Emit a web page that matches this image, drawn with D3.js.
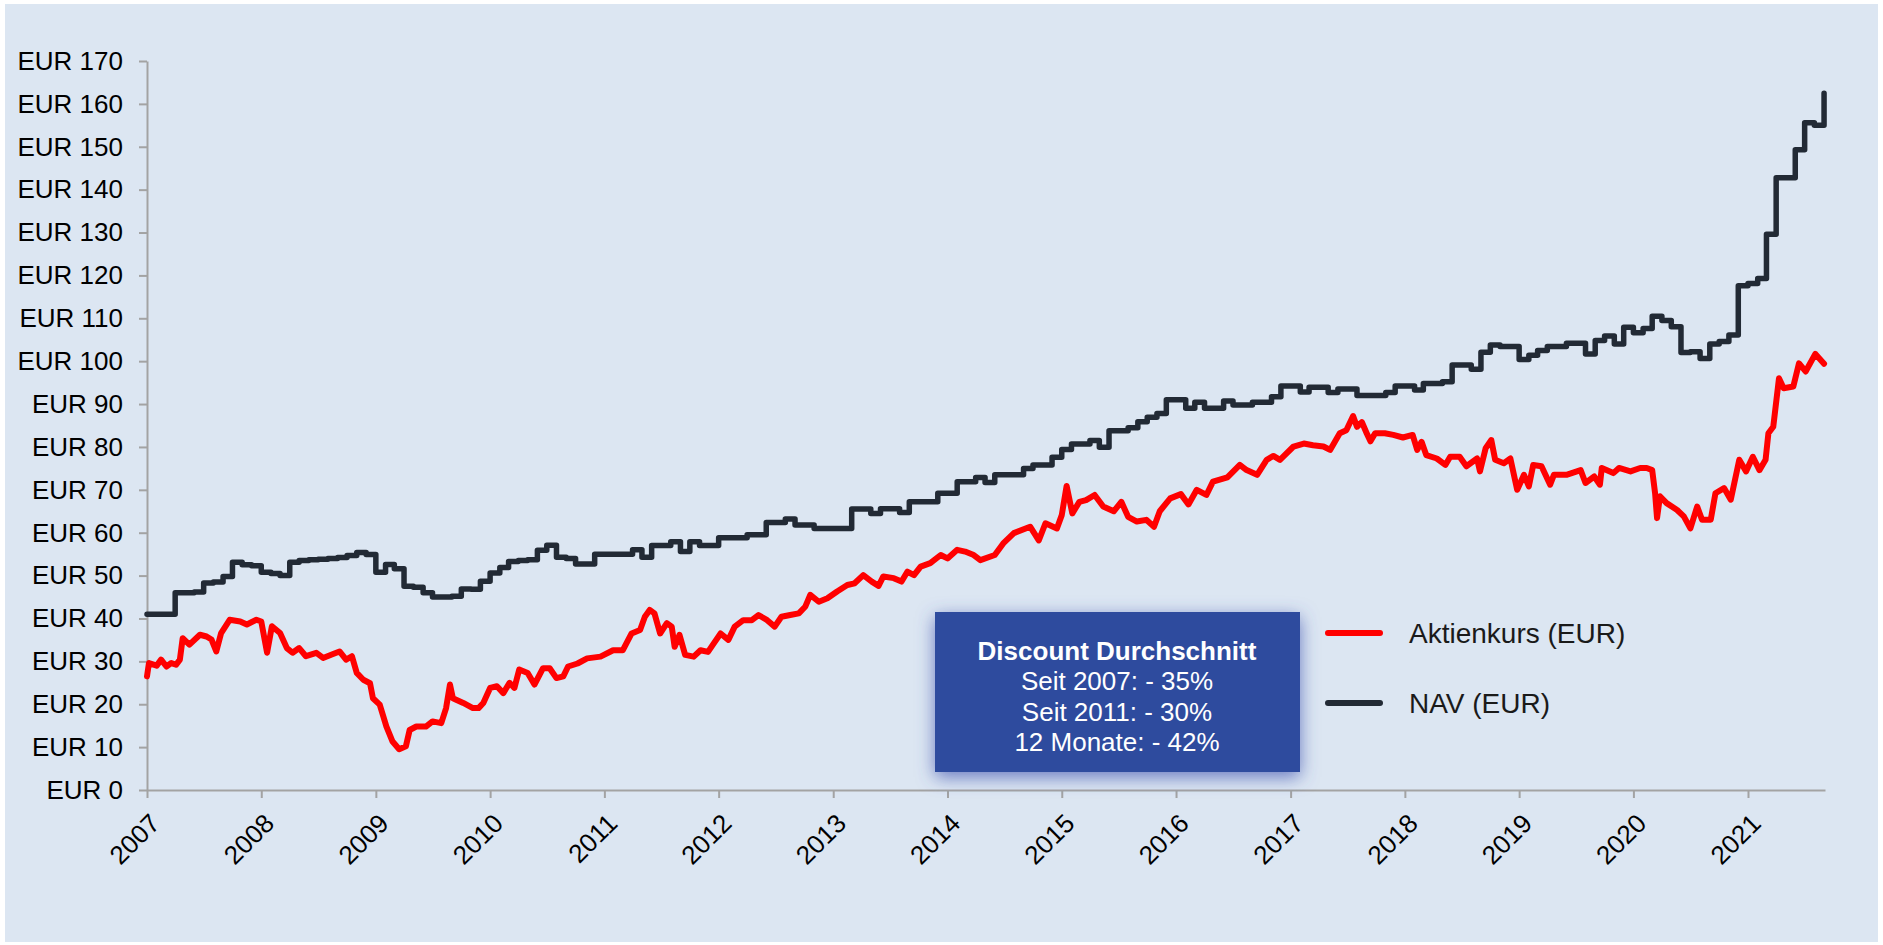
<!DOCTYPE html>
<html>
<head>
<meta charset="utf-8">
<script src="https://cdn.jsdelivr.net/npm/d3@7"></script>
<style>
  body { margin: 0; background: #ffffff; }
  svg { display: block; font-family: "Liberation Sans", Arial, sans-serif; }
</style>
</head>
<body>
<script>
//Data - NAV is published monthly (Jan 2007 = month 0), shown as steps
const navValues = [
  41, 41, 41, 46, 46, 46.2, 48.3, 48.5, 49.8, 53.1, 52.5, 52.3,            // 2007
  50.8, 50.5, 50.0, 53.1, 53.5, 53.7, 53.8, 54.0, 54.2, 54.7, 55.4, 54.9,  // 2008
  50.8, 52.6, 51.6, 47.5, 47.3, 46.0, 45.0, 45.0, 45.2, 46.9, 46.8, 48.7,  // 2009
  50.6, 51.9, 53.3, 53.5, 53.7, 55.9, 57.1, 54.3, 54.0, 52.7, 52.7, 55.0,  // 2010
  55.0, 55.0, 55.0, 56.0, 54.3, 57.0, 57.0, 57.9, 55.6, 57.9, 57.0, 57.0,  // 2011
  58.8, 58.8, 58.8, 59.5, 59.5, 62.4, 62.4, 63.2, 61.8, 61.8, 61.0, 61.0,  // 2012
  61.0, 61.0, 65.5, 65.5, 64.5, 65.6, 65.6, 64.7, 67.2, 67.2, 67.2, 69.2,  // 2013
  69.2, 71.9, 71.9, 72.9, 71.7, 73.5, 73.5, 73.5, 75.0, 75.8, 75.8, 77.6,  // 2014
  79.4, 80.7, 80.7, 81.5, 79.9, 83.8, 83.8, 84.5, 85.9, 86.9, 87.8, 91.0,  // 2015
  91.0, 89.0, 90.4, 89.0, 89.0, 90.7, 89.8, 89.8, 90.4, 90.4, 91.7, 94.2,  // 2016
  94.2, 92.8, 93.9, 93.9, 92.7, 93.5, 93.5, 92.0, 92.0, 92.0, 92.7, 94.2,  // 2017
  94.2, 93.3, 94.8, 94.8, 95.2, 99.1, 99.1, 98.1, 102.1, 103.8, 103.4, 103.4, // 2018
  100.4, 101.4, 102.5, 103.4, 103.4, 104.2, 104.2, 101.7, 104.8, 105.9, 104.0, 107.9, // 2019
  106.6, 107.6, 110.5, 109.5, 108.0, 102.0, 102.2, 100.6, 104.0, 104.6, 106.1, 117.6, // 2020
  118.1, 119.3, 129.6, 142.8, 142.8, 149.3, 155.6, 155.0, 162.5             // 2021
];

//Share price: month offset since Jan 2007 and price in EUR
const priceMonths = [
  0, 0.2, 1.0, 1.5, 2.1, 2.6, 3.1, 3.5, 3.8, 4.5, 5.6, 6.3, 6.8, 7.3, 7.8, 8.7, 9.8, 10.5, 11.5,
  12.0, 12.6, 13.1, 14.0, 14.7, 15.3, 16.0, 16.7, 17.8, 18.5, 19.4, 20.2, 20.9, 21.5, 22.0, 22.7, 23.4, 23.7,
  24.4, 25.1, 25.8, 26.5, 27.2, 27.6, 28.3, 29.3, 30.0, 30.9, 31.4, 31.8, 32.1, 33.2, 34.2, 34.8, 35.3,
  36.0, 36.7, 37.4, 38.1, 38.6, 39.1, 40.0, 40.7, 41.6, 42.3, 43.0, 43.7, 44.2, 45.2, 46.2, 47.6,
  48.9, 50.0, 50.9, 51.8, 52.3, 52.8, 53.3, 53.9, 54.6, 55.1, 55.4, 55.9, 56.5, 57.4, 58.1, 58.9, 59.5,
  60.2, 61.0, 61.7, 62.6, 63.5, 64.2, 65.1, 65.9, 66.6, 67.5, 68.4, 69.1, 69.6, 70.5, 71.4,
  72.4, 73.5, 74.3, 75.2, 76.1, 76.8, 77.3, 78.4, 79.2, 79.8, 80.5, 81.2, 82.2, 83.3,
  84.0, 85.0, 85.9, 86.8, 87.5, 89.0, 89.9, 91.0, 92.7, 93.6, 94.3, 95.5,
  96.0, 96.5, 97.1, 97.9, 98.6, 99.5, 100.4, 101.5, 102.3, 103.0, 103.9, 104.9, 105.7, 106.3, 107.4,
  108.5, 109.3, 110.2, 111.2, 111.9, 113.4, 114.7, 115.4, 116.5, 117.5, 118.2, 118.9,
  120.3, 121.4, 122.4, 123.5, 124.2, 125.2, 125.9, 126.6, 127.0, 127.5, 128.0, 128.4, 128.9, 129.9, 130.8, 131.8,
  132.8, 133.3, 133.8, 134.3, 135.4, 136.3, 136.8, 137.8, 138.5, 139.6, 139.9, 140.5, 141.1, 141.5, 142.4, 143.1, 143.8,
  144.5, 145.0, 145.5, 146.4, 147.3, 147.7, 149.0, 150.5, 151.0, 151.9, 152.5, 152.7, 153.9, 154.5, 155.7,
  156.7, 157.4, 158.0, 158.3, 158.5, 158.8, 159.5, 160.6, 161.3, 162.0, 162.7, 163.2, 164.1, 164.6, 165.5, 166.2, 167.1, 167.8,
  168.5, 169.2, 169.9, 170.2, 170.7, 171.3, 171.8, 172.8, 173.4, 174.1, 175.1, 176.0
];
const priceValues = [
  26.5, 29.6, 29.0, 30.4, 28.8, 29.6, 29.2, 30.4, 35.4, 33.9, 36.2, 35.8, 35.1, 32.3, 36.6, 39.7, 39.3, 38.6, 39.7,
  39.3, 32.0, 38.2, 36.6, 33.1, 32.0, 33.1, 31.2, 32.0, 30.8, 31.6, 32.3, 30.4, 31.2, 27.3, 25.7, 24.9, 21.4,
  19.9, 14.8, 11.3, 9.5, 10.2, 14.0, 14.8, 14.8, 16.0, 15.6, 19.1, 24.6, 21.4, 20.3, 19.1, 19.1, 20.3,
  23.8, 24.2, 22.6, 25.0, 23.8, 28.1, 27.3, 24.6, 28.4, 28.4, 26.1, 26.5, 28.8, 29.5, 30.7, 31.1,
  32.6, 32.6, 36.5, 37.3, 40.4, 42.0, 41.2, 36.5, 38.9, 38.1, 33.4, 36.2, 31.5, 31.1, 32.6, 32.2, 34.2,
  36.5, 35.0, 38.1, 39.6, 39.6, 40.8, 39.6, 38.1, 40.4, 40.8, 41.2, 42.8, 45.5, 43.9, 44.7,
  46.3, 47.8, 48.2, 50.1, 48.6, 47.6, 49.8, 49.4, 48.6, 50.9, 50.1, 52.1, 52.9, 54.8,
  54.0, 56.0, 55.6, 54.8, 53.6, 54.8, 57.5, 59.9, 61.4, 58.2, 62.2, 61.0,
  64.1, 70.9, 64.5, 67.2, 67.6, 68.8, 66.1, 65.0, 67.2, 63.7, 62.6, 63.0, 61.4, 65.0, 68.0,
  69.0, 66.6, 70.0, 68.8, 71.9, 72.9, 75.8, 74.6, 73.5, 77.0, 77.9, 77.0,
  80.1, 80.8, 80.4, 80.1, 79.3, 83.2, 83.9, 87.2, 84.7, 85.8, 83.2, 81.3, 83.2, 83.2, 82.8, 82.2,
  82.8, 79.3, 81.2, 78.1, 77.3, 75.8, 77.7, 77.7, 75.5, 77.3, 74.3, 79.7, 81.6, 77.0, 76.2, 77.3, 70.0,
  73.5, 70.8, 75.8, 75.5, 71.2, 73.5, 73.5, 74.6, 71.6, 73.1, 71.2, 75.1, 73.9, 75.1, 74.3,
  75.1, 75.1, 74.6, 69.2, 63.4, 68.5, 66.9, 65.3, 63.8, 61.0, 66.1, 63.0, 63.0, 69.2, 70.4, 67.7, 77.0, 74.3,
  77.7, 74.6, 77.0, 83.2, 84.7, 96.0, 93.7, 94.1, 99.5, 97.6, 101.7, 99.4
];

const yTicks = d3.range(0, 171, 10);
const seriesNames = ["Aktienkurs (EUR)", "NAV (EUR)"];
const seriesColors = ["#ff0000", "#222a35"];
const infoTitle = "Discount Durchschnitt";
const infoLines = ["Seit 2007: - 35%", "Seit 2011: - 30%", "12 Monate: - 42%"];

//Sizes
const width = 1883;
const height = 945;
const margin = {top: 61, right: 58, bottom: 155, left: 147};

//month offset -> date
function monthToDate(m) {
  const k = Math.floor(m);
  const a = new Date(2007, k, 1);
  const b = new Date(2007, k + 1, 1);
  return new Date(+a + (m - k) * (b - a));
}

const navData = navValues.map((v, i) => ({date: monthToDate(i), value: v}));
const priceData = priceMonths.map((m, i) => ({date: monthToDate(m), value: priceValues[i]}));

//Scales
const xScale = d3.scaleTime()
  .domain([new Date(2007, 0, 1), new Date(2021, 8, 4)])
  .range([margin.left, width - margin.right]);

const yScale = d3.scaleLinear()
  .domain([0, 170])
  .range([height - margin.bottom, margin.top]);

const svg = d3.select("body").append("svg")
  .attr("width", width)
  .attr("height", height);

//drop shadow for the info box
const defs = svg.append("defs");
const glow = defs.append("filter").attr("id", "glow")
  .attr("x", "-20%").attr("y", "-30%").attr("width", "140%").attr("height", "160%");
glow.append("feDropShadow")
  .attr("dx", 0).attr("dy", 5)
  .attr("stdDeviation", 9)
  .attr("flood-color", "#3f55b0")
  .attr("flood-opacity", 0.75);

//Background
svg.append("rect")
  .attr("x", 5).attr("y", 4)
  .attr("width", 1873).attr("height", 938)
  .attr("fill", "#dce6f2");

//Axes
const leftAxis = d3.axisLeft(yScale)
  .tickValues(yTicks)
  .tickFormat(d => "EUR " + d)
  .tickSize(8)
  .tickSizeOuter(0)
  .tickPadding(16);

const bottomAxis = d3.axisBottom(xScale)
  .ticks(d3.timeYear.every(1))
  .tickFormat(d3.timeFormat("%Y"))
  .tickSize(8)
  .tickSizeOuter(0);

const gy = svg.append("g")
  .attr("transform", "translate(" + margin.left + ",0)")
  .call(leftAxis);

const gx = svg.append("g")
  .attr("transform", "translate(0," + (height - margin.bottom) + ")")
  .call(bottomAxis);

[gx, gy].forEach(g => {
  g.select(".domain").attr("stroke", "#a3a3a3").attr("stroke-width", 2);
  g.selectAll(".tick line").attr("stroke", "#a3a3a3").attr("stroke-width", 2);
  g.selectAll("text").attr("fill", "#000").attr("font-size", 26)
    .attr("font-family", "'Liberation Sans', Arial, sans-serif");
});

gx.selectAll(".tick text")
  .attr("x", 0).attr("y", 0).attr("dy", null)
  .attr("text-anchor", "end")
  .attr("transform", "translate(14,35) rotate(-45)");

//Lines
const navLine = d3.line()
  .x(d => xScale(d.date))
  .y(d => yScale(d.value))
  .curve(d3.curveStepAfter);

const priceLine = d3.line()
  .x(d => xScale(d.date))
  .y(d => yScale(d.value));

svg.append("path")
  .datum(navData)
  .attr("fill", "none")
  .attr("stroke", seriesColors[1])
  .attr("stroke-width", 5.5)
  .attr("stroke-linejoin", "round")
  .attr("stroke-linecap", "round")
  .attr("d", navLine);

svg.append("path")
  .datum(priceData)
  .attr("fill", "none")
  .attr("stroke", seriesColors[0])
  .attr("stroke-width", 6)
  .attr("stroke-linejoin", "round")
  .attr("stroke-linecap", "round")
  .attr("d", priceLine);

//Info box
const box = svg.append("g");
box.append("rect")
  .attr("x", 935).attr("y", 612)
  .attr("width", 365).attr("height", 160)
  .attr("fill", "#2f4b9e")
  .attr("filter", "url(#glow)");

box.append("text")
  .attr("x", 1117).attr("y", 660)
  .attr("text-anchor", "middle")
  .attr("fill", "#ffffff")
  .attr("font-size", 26)
  .attr("font-weight", "bold")
  .text(infoTitle);

box.selectAll("text.line")
  .data(infoLines)
  .join("text")
  .attr("class", "line")
  .attr("x", 1117)
  .attr("y", (d, i) => 690 + i * 30.5)
  .attr("text-anchor", "middle")
  .attr("fill", "#ffffff")
  .attr("font-size", 26)
  .text(d => d);

//Legend
const legend = svg.append("g").attr("transform", "translate(1326,633)");
seriesNames.forEach((name, i) => {
  const row = legend.append("g").attr("transform", "translate(0," + (i * 70) + ")");
  row.append("line")
    .attr("x1", 2).attr("x2", 54)
    .attr("stroke", seriesColors[i])
    .attr("stroke-width", 6)
    .attr("stroke-linecap", "round");
  row.append("text")
    .attr("x", 83).attr("y", 0)
    .attr("dy", "0.35em")
    .attr("font-size", 28)
    .attr("fill", "#1a1a1a")
    .text(name);
});
</script>
</body>
</html>
